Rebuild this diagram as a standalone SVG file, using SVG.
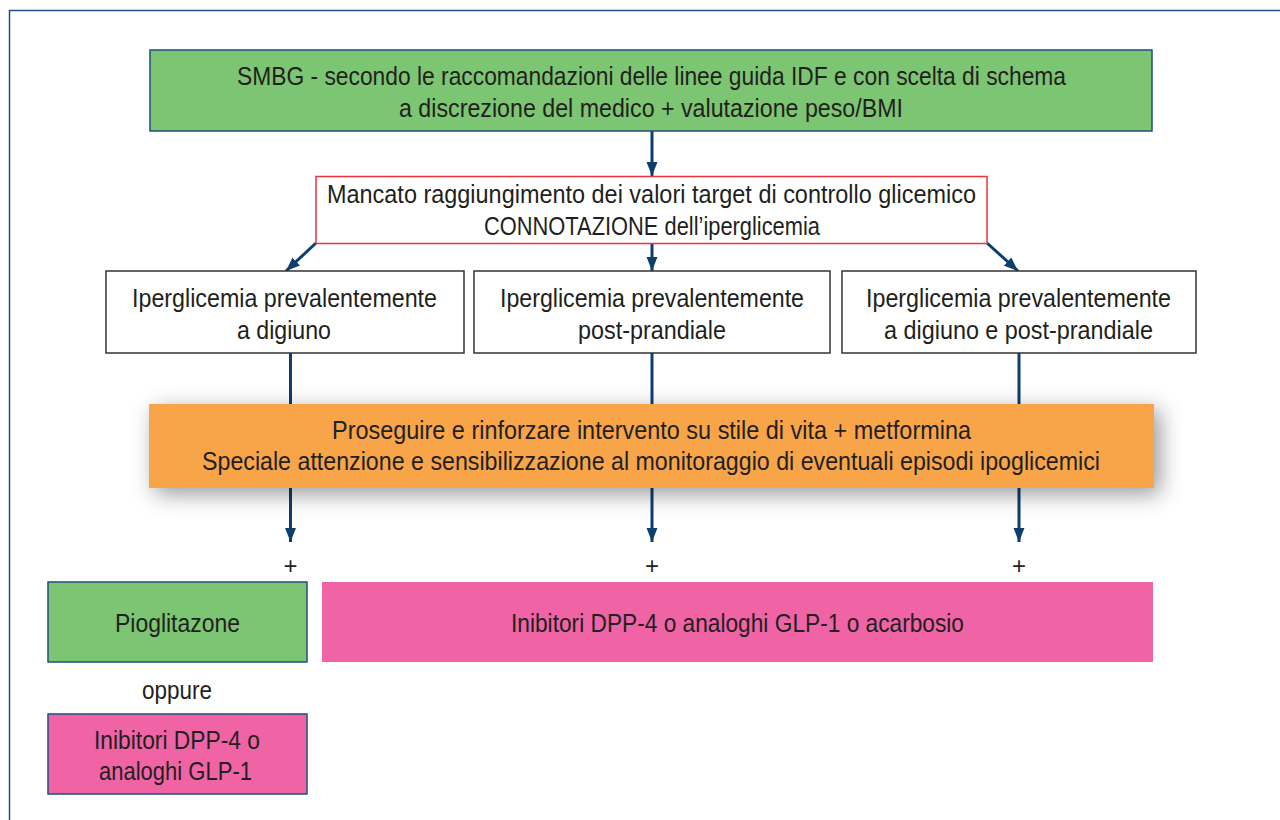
<svg xmlns="http://www.w3.org/2000/svg" width="1280" height="820" viewBox="0 0 1280 820">
<defs>
<style>
text{font-family:"Liberation Sans",Arial,sans-serif;font-size:26px;fill:#231f20;text-anchor:middle}
.con{stroke:#0c3f6e;stroke-width:3;fill:none}
.wbox{fill:#ffffff;stroke:#333333;stroke-width:1.5}
.green{fill:#7cc572;stroke:#1f4f7f;stroke-width:1.5}
.pink{fill:#f064a6}
.pinkb{fill:#f064a6;stroke:#1f4f7f;stroke-width:1.5}
.plus{font-size:24px}
</style>
<marker id="ah" markerUnits="userSpaceOnUse" markerWidth="14" markerHeight="20" refX="18" refY="7" orient="auto" viewBox="0 0 18 14">
<path d="M0,0 L18,7 L0,14 Z" fill="#0c3f6e"/>
</marker>
<filter id="sh" x="-10%" y="-60%" width="120%" height="220%">
<feDropShadow dx="6" dy="6" stdDeviation="11" flood-color="#000" flood-opacity="0.4"/>
</filter>
</defs>
<rect x="9.5" y="10.5" width="1300" height="900" fill="#ffffff" stroke="#1f4f8a" stroke-width="1.5"/>

<g id="connectors">
<line class="con" x1="652" y1="131" x2="652" y2="176" marker-end="url(#ah)"/>
<line class="con" x1="316" y1="243" x2="286" y2="271" marker-end="url(#ah)"/>
<line class="con" x1="652" y1="243" x2="652" y2="271" marker-end="url(#ah)"/>
<line class="con" x1="987" y1="243" x2="1018" y2="271" marker-end="url(#ah)"/>
<line class="con" x1="290.5" y1="353" x2="290.5" y2="406"/>
<line class="con" x1="652" y1="353" x2="652" y2="406"/>
<line class="con" x1="1019" y1="353" x2="1019" y2="406"/>
<line class="con" x1="290.5" y1="486" x2="290.5" y2="542" marker-end="url(#ah)"/>
<line class="con" x1="652" y1="486" x2="652" y2="542" marker-end="url(#ah)"/>
<line class="con" x1="1019" y1="486" x2="1019" y2="542" marker-end="url(#ah)"/>
</g>

<g id="smbg">
<rect class="green" x="150" y="50" width="1002" height="81"/>
<text x="651.5" y="85" textLength="829" lengthAdjust="spacingAndGlyphs">SMBG - secondo le raccomandazioni delle linee guida IDF e con scelta di schema</text>
<text x="651" y="117" textLength="504" lengthAdjust="spacingAndGlyphs">a discrezione del medico + valutazione peso/BMI</text>
</g>

<g id="mancato">
<rect x="316" y="176.5" width="671" height="67" fill="#ffffff" stroke="#e8343f" stroke-width="1.5"/>
<text x="651.5" y="203" textLength="649" lengthAdjust="spacingAndGlyphs">Mancato raggiungimento dei valori target di controllo glicemico</text>
<text x="652" y="235" textLength="336" lengthAdjust="spacingAndGlyphs">CONNOTAZIONE dell’iperglicemia</text>
</g>

<g id="digiuno">
<rect class="wbox" x="106" y="271" width="358" height="82"/>
<text x="284.5" y="307" textLength="305" lengthAdjust="spacingAndGlyphs">Iperglicemia prevalentemente</text>
<text x="284" y="339" textLength="94" lengthAdjust="spacingAndGlyphs">a digiuno</text>
</g>

<g id="postprandiale">
<rect class="wbox" x="474" y="271" width="356" height="82"/>
<text x="652" y="307" textLength="304" lengthAdjust="spacingAndGlyphs">Iperglicemia prevalentemente</text>
<text x="652" y="339" textLength="148" lengthAdjust="spacingAndGlyphs">post-prandiale</text>
</g>

<g id="entrambi">
<rect class="wbox" x="842" y="271" width="354" height="82"/>
<text x="1018.5" y="307" textLength="305" lengthAdjust="spacingAndGlyphs">Iperglicemia prevalentemente</text>
<text x="1018.5" y="339" textLength="269" lengthAdjust="spacingAndGlyphs">a digiuno e post-prandiale</text>
</g>

<g id="proseguire">
<rect x="149" y="404" width="1005" height="84" fill="#f8a54a" filter="url(#sh)"/>
<text x="651.5" y="439" textLength="639" lengthAdjust="spacingAndGlyphs">Proseguire e rinforzare intervento su stile di vita + metformina</text>
<text x="651" y="470" textLength="898" lengthAdjust="spacingAndGlyphs">Speciale attenzione e sensibilizzazione al monitoraggio di eventuali episodi ipoglicemici</text>
</g>

<g id="plus">
<text class="plus" x="290.5" y="574">+</text>
<text class="plus" x="652" y="574">+</text>
<text class="plus" x="1019" y="574">+</text>
</g>

<g id="pioglitazone">
<rect class="green" x="48" y="582" width="259" height="80"/>
<text x="177.5" y="632" textLength="125" lengthAdjust="spacingAndGlyphs">Pioglitazone</text>
</g>

<g id="oppure">
<text x="177" y="699" textLength="70" lengthAdjust="spacingAndGlyphs">oppure</text>
</g>

<g id="inibitori-small">
<rect class="pinkb" x="48" y="714" width="259" height="80"/>
<text x="177" y="749" textLength="166" lengthAdjust="spacingAndGlyphs">Inibitori DPP-4 o</text>
<text x="175.5" y="780" textLength="153" lengthAdjust="spacingAndGlyphs">analoghi GLP-1</text>
</g>

<g id="inibitori-big">
<rect class="pink" x="322" y="582" width="831" height="80"/>
<text x="737.5" y="632" textLength="453" lengthAdjust="spacingAndGlyphs">Inibitori DPP-4 o analoghi GLP-1 o acarbosio</text>
</g>
</svg>
